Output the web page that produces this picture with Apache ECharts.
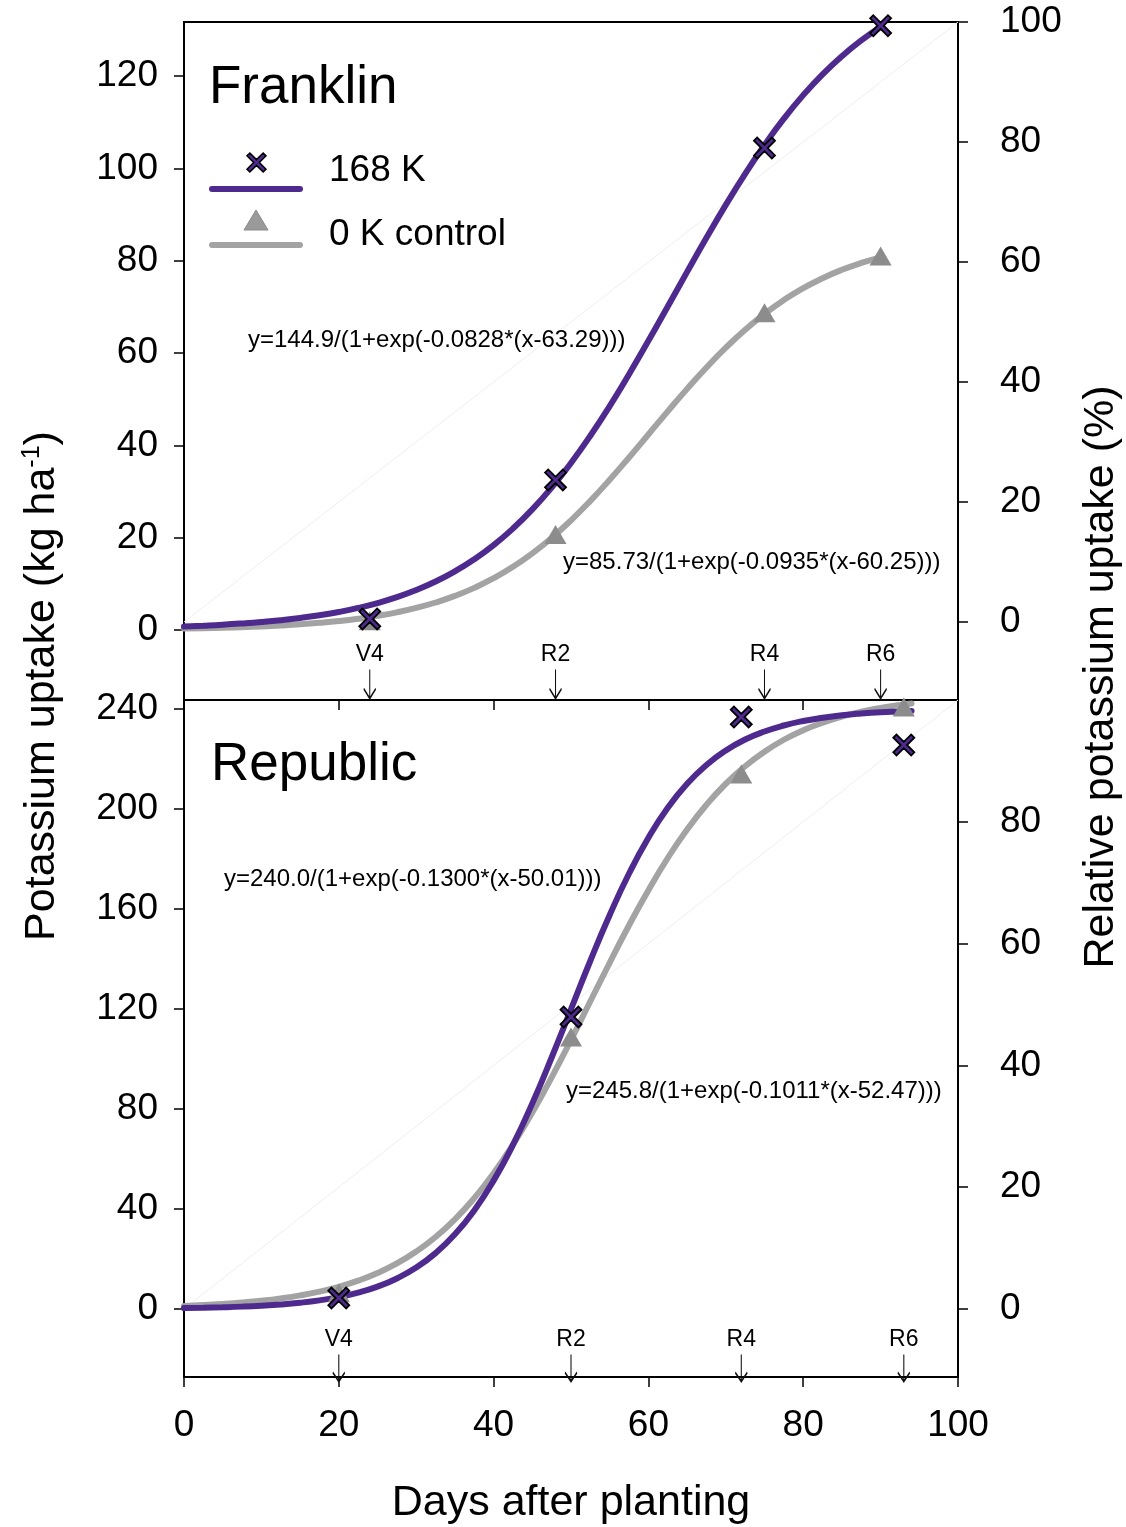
<!DOCTYPE html>
<html style="height: 100%">

<head>
  <meta charset="utf-8">
</head>

<body style="height: 100%; margin: 0; background: #fff">
  <div id="container" style="width: 1126px; height: 1527px"></div>
  <script type="text/javascript" src="https://cdn.jsdelivr.net/npm/echarts@6/dist/echarts.min.js"></script>
  <script type="text/javascript">
    // fitted curves, every 2.5 days
    var fitDaysF = [0, 2.5, 5, 7.5, 10, 12.5, 15, 17.5, 20, 22.5, 25, 27.5, 30, 32.5, 35, 37.5, 40, 42.5, 45,
      47.5, 50, 52.5, 55, 57.5, 60, 62.5, 65, 67.5, 70, 72.5, 75, 77.5, 80, 82.5, 85, 87.5, 90];
    var fitK168F = [0.76, 0.94, 1.15, 1.42, 1.74, 2.13, 2.61, 3.20, 3.91, 4.78, 5.84, 7.12, 8.66, 10.50, 12.70, 15.32, 18.39, 21.98, 26.12,
      30.85, 36.18, 42.08, 48.51, 55.41, 62.65, 70.08, 77.57, 84.95, 92.08, 98.81, 105.06, 110.76, 115.86, 120.37, 124.30, 127.70, 130.60];
    var fitK0F = [0.31, 0.39, 0.49, 0.61, 0.77, 0.98, 1.23, 1.55, 1.94, 2.44, 3.06, 3.83, 4.78, 5.96, 7.39, 9.13, 11.22, 13.70, 16.61,
      19.96, 23.76, 27.98, 32.55, 37.38, 42.36, 47.36, 52.23, 56.86, 61.15, 65.04, 68.49, 71.48, 74.05, 76.21, 78.02, 79.51, 80.73];
    var fitDaysR = [0, 2.5, 5, 7.5, 10, 12.5, 15, 17.5, 20, 22.5, 25, 27.5, 30, 32.5, 35, 37.5, 40, 42.5, 45,
      47.5, 50, 52.5, 55, 57.5, 60, 62.5, 65, 67.5, 70, 72.5, 75, 77.5, 80, 82.5, 85, 87.5, 90, 92.5, 94];
    var fitK168R = [0.36, 0.50, 0.69, 0.95, 1.32, 1.82, 2.51, 3.46, 4.76, 6.53, 8.95, 12.21, 16.57, 22.34, 29.86, 39.43, 51.35, 65.66, 82.25,
      100.6, 119.9, 139.3, 157.6, 174.2, 188.5, 200.5, 210.1, 217.6, 223.4, 227.8, 231.0, 233.4, 235.2, 236.5, 237.5, 238.2, 238.7, 239.0, 239.2];
    var fitK0R = [1.22, 1.56, 2.01, 2.58, 3.31, 4.25, 5.44, 6.96, 8.89, 11.33, 14.40, 18.23, 22.98, 28.81, 35.89, 44.34, 54.28, 65.72, 78.58,
      92.65, 107.6, 123.1, 138.5, 153.5, 167.5, 180.4, 191.8, 201.7, 210.1, 217.1, 222.9, 227.7, 231.5, 234.5, 237.0, 238.9, 240.4, 241.6, 242.2];

    // measured points
    var obsDaysF = [24, 48, 75, 90];
    var obsK168F = [2.4, 32.5, 104.4, 130.9];
    var obsK0F = [2.0, 20.7, 68.7, 81.0];
    var obsDaysR = [20, 50, 72, 93];
    var obsK168R = [4.4, 116.8, 236.8, 225.6];
    var obsK0R = [6.5, 108.8, 214.0, 240.8];

    // growth stages
    var stageNames = ['V4', 'R2', 'R4', 'R6'];
    var stageDaysF = [24, 48, 75, 90];
    var stageDaysR = [20, 50, 72, 93];

    var leftTicksF = [0, 20, 40, 60, 80, 100, 120];
    var rightTicksF = [0, 20, 40, 60, 80, 100];
    var leftTicksR = [0, 40, 80, 120, 160, 200, 240];
    var rightTicksR = [0, 20, 40, 60, 80];
    var diagX = [0, 100];
    var diagY = [0, 100];

    var equations = [
      'y=144.9/(1+exp(-0.0828*(x-63.29)))',
      'y=85.73/(1+exp(-0.0935*(x-60.25)))',
      'y=240.0/(1+exp(-0.1300*(x-50.01)))',
      'y=245.8/(1+exp(-0.1011*(x-52.47)))'
    ];

    var FONT = '"Liberation Sans", Arial, sans-serif';
    var PURPLE = '#4e2a8e';
    var GRAY_LINE = '#a3a3a3';
    var GRAY_MARK = '#8c8c8c';
    var CROSS_PTS = [[0, 3], [3, 0], [10, 7], [17, 0], [20, 3], [13, 10], [20, 17], [17, 20], [10, 13], [3, 20], [0, 17], [7, 10]];
    var CROSS = 'path://M' + CROSS_PTS.map(function (p) { return p.join(' '); }).join(' L') + ' Z';
    var ARROW = 'path://M6 0 L6 30 M0 20 L6 30 L12 20';

    function pairs(xs, ys) {
      return xs.map(function (x, i) { return [x, ys[i]]; });
    }

    var yMinF = -15.16, yMinR = -27.2;

    function xAxis(grid, showLabel) {
      return {
        type: 'value', gridIndex: grid, min: 0, max: 100, interval: 20,
        axisLine: { onZero: false, lineStyle: { color: '#000', width: 2 } },
        axisTick: { inside: false, length: 10, lineStyle: { color: '#000', width: 1.5 } },
        axisLabel: { show: showLabel, fontSize: 37, fontFamily: FONT, color: '#000', margin: 30 },
        splitLine: { show: false }
      };
    }

    function yAxis(grid, pos, min, max, ticks, margin) {
      return {
        type: 'value', gridIndex: grid, position: pos, min: min, max: max,
        axisLine: { show: true, onZero: false, lineStyle: { color: '#000', width: 2 } },
        axisTick: { show: true, inside: false, length: 10, customValues: ticks, lineStyle: { color: '#000', width: 1.5 } },
        axisLabel: { show: true, customValues: ticks, fontSize: 37, fontFamily: FONT, color: '#000', margin: margin },
        splitLine: { show: false }
      };
    }

    function stageSeries(xi, yi, days, yMin, size, offset) {
      return {
        type: 'scatter', xAxisIndex: xi, yAxisIndex: yi, clip: false, silent: true,
        symbol: ARROW, symbolSize: [12, size], symbolOffset: [0, offset],
        itemStyle: { color: 'rgba(0,0,0,0)', borderColor: '#111', borderWidth: 1.6, opacity: 1 },
        label: {
          show: true, position: 'top', distance: 2, fontSize: 23, fontFamily: FONT, color: '#000',
          fontWeight: 'normal', formatter: function (p) { return p.name; }
        },
        data: days.map(function (d, i) { return { name: stageNames[i], value: [d, yMin] }; }),
        z: 5
      };
    }

    function curve(xi, yi, xs, ys, color) {
      return {
        type: 'line', xAxisIndex: xi, yAxisIndex: yi, data: pairs(xs, ys), smooth: true,
        showSymbol: false, symbol: 'none', lineStyle: { color: color, width: 6, cap: 'round' }, z: 3
      };
    }

    function points(xi, yi, xs, ys, kind) {
      var cross = kind === 'cross';
      return {
        type: 'scatter', xAxisIndex: xi, yAxisIndex: yi, data: pairs(xs, ys),
        symbol: cross ? CROSS : 'triangle', symbolSize: cross ? 21 : [22, 19],
        itemStyle: cross ? { color: PURPLE, borderColor: '#000', borderWidth: 1.8, opacity: 1 } : { color: GRAY_MARK, opacity: 1 },
        z: cross ? 7 : 6
      };
    }

    function diag(xi, yi) {
      return {
        type: 'line', xAxisIndex: xi, yAxisIndex: yi, data: pairs(diagX, diagY), symbol: 'none',
        lineStyle: { color: '#efefef', width: 1 }, silent: true, z: 1
      };
    }

    function txt(x, y, text, size, align, extra) {
      var el = {
        type: 'text', x: x, y: y, z: 20,
        style: {
          text: text, font: size + 'px ' + FONT, fill: '#000',
          align: align || 'left', verticalAlign: 'middle', textAlign: align || 'left', textVerticalAlign: 'middle'
        }
      };
      if (extra) { for (var k in extra) el[k] = extra[k]; }
      return el;
    }

    var myChart = echarts.init(document.getElementById('container'), null, { renderer: 'canvas' });

    var legendCross = CROSS_PTS.map(function (p) { return [p[0] * 0.95 + 247, p[1] * 0.95 + 153]; });

    var option = {
      backgroundColor: '#fff',
      animation: false,
      grid: [
        { left: 184, top: 22, width: 774, height: 678, show: true, borderColor: '#000', borderWidth: 2, containLabel: false, outerBoundsMode: 'none' },
        { left: 184, top: 700, width: 774, height: 677, show: true, borderColor: '#000', borderWidth: 2, containLabel: false, outerBoundsMode: 'none' }
      ],
      xAxis: [xAxis(0, false), xAxis(1, true)],
      yAxis: [
        yAxis(0, 'left', yMinF, 131.7, leftTicksF, 26),
        yAxis(0, 'right', -13, 100, rightTicksF, 42),
        yAxis(1, 'left', yMinR, 243.6, leftTicksR, 26),
        yAxis(1, 'right', -11.17, 100, rightTicksR, 42)
      ],
      series: [
        diag(0, 1),
        diag(1, 3),
        curve(0, 0, fitDaysF, fitK0F, GRAY_LINE),
        curve(0, 0, fitDaysF, fitK168F, PURPLE),
        curve(1, 2, fitDaysR, fitK0R, GRAY_LINE),
        curve(1, 2, fitDaysR, fitK168R, PURPLE),
        points(0, 0, obsDaysF, obsK0F, 'tri'),
        points(0, 0, obsDaysF, obsK168F, 'cross'),
        points(1, 2, obsDaysR, obsK0R, 'tri'),
        points(1, 2, obsDaysR, obsK168R, 'cross'),
        stageSeries(0, 0, stageDaysF, yMinF, 29, -16),
        stageSeries(1, 2, stageDaysR, yMinR, 27, -9)
      ],
      graphic: [
        txt(209, 88, 'Franklin', 53),
        txt(211, 765, 'Republic', 53),
        // legend
        { type: 'polygon', shape: { points: legendCross }, style: { fill: PURPLE, stroke: '#000', lineWidth: 1.5 }, z: 20 },
        { type: 'line', shape: { x1: 212, y1: 189, x2: 300, y2: 189 }, style: { stroke: PURPLE, lineWidth: 6, lineCap: 'round' }, z: 20 },
        { type: 'polygon', shape: { points: [[256, 210], [268, 230], [244, 230]] }, style: { fill: '#9a9a9a', stroke: '#8a8a8a', lineWidth: 1 }, z: 20 },
        { type: 'line', shape: { x1: 212, y1: 245, x2: 300, y2: 245 }, style: { stroke: GRAY_LINE, lineWidth: 6, lineCap: 'round' }, z: 20 },
        txt(329, 171, '168 K', 37),
        txt(329, 235, '0 K control', 37),
        // fitted equations
        txt(248, 340, equations[0], 24),
        txt(563, 562, equations[1], 24),
        txt(224, 879, equations[2], 24),
        txt(566, 1091, equations[3], 24),
        // axis names
        txt(571, 1503, 'Days after planting', 43, 'center'),
        {
          type: 'text', x: 42, y: 686, rotation: Math.PI / 2, z: 20,
          style: {
            text: 'Potassium uptake (kg ha{sup|-1})', font: '43px ' + FONT, fill: '#000',
            align: 'center', verticalAlign: 'middle', textAlign: 'center', textVerticalAlign: 'middle',
            rich: { sup: { fontSize: 25, fontFamily: FONT, fill: '#000', padding: [0, 0, 20, 0] } }
          }
        },
        txt(1101, 677, 'Relative potassium uptake (%)', 43, 'center', { rotation: Math.PI / 2 })
      ]
    };

    myChart.setOption(option);
  </script>
</body>

</html>
